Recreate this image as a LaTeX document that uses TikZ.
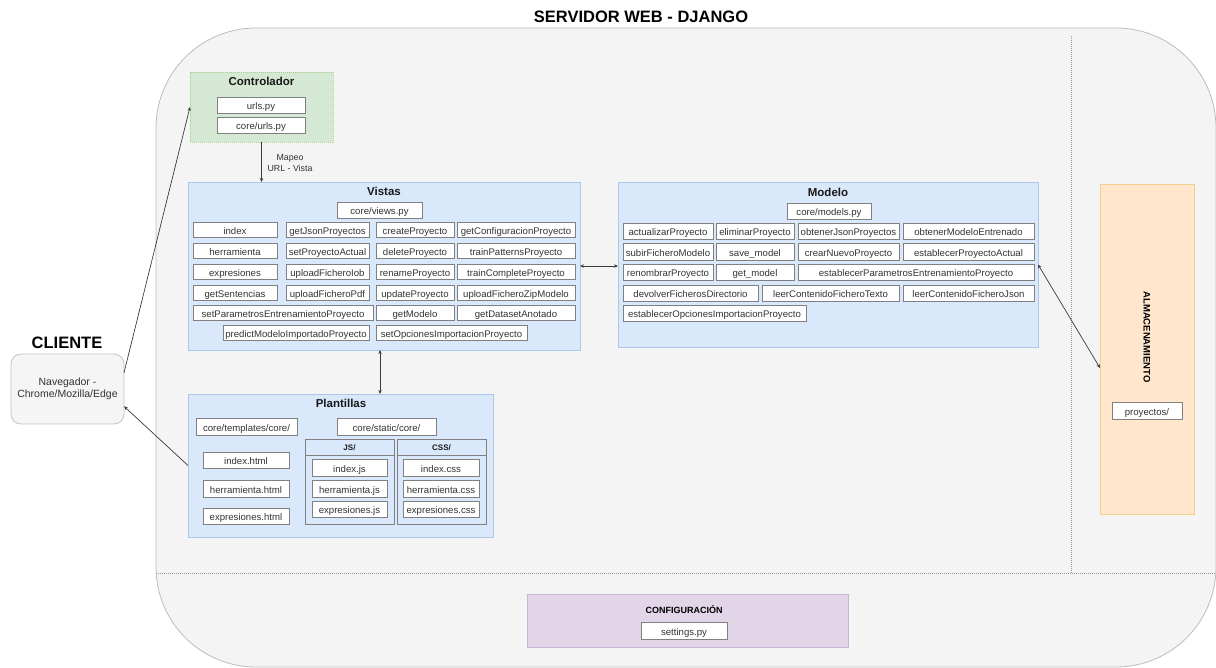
\documentclass[tikz,border=0pt]{standalone}
\usepackage{fontspec}
\setmainfont{Liberation Sans}
\usetikzlibrary{arrows.meta}

\definecolor{bgfill}{HTML}{F4F4F4}
\definecolor{bgline}{HTML}{BDBDBD}
\definecolor{boxline}{HTML}{808080}
\definecolor{txt}{HTML}{333333}
\definecolor{bluefill}{HTML}{DAE8FC}
\definecolor{blueline}{HTML}{AFC6E9}
\definecolor{greenfill}{HTML}{D5E8D4}
\definecolor{greenline}{HTML}{A9D18E}
\definecolor{orangefill}{HTML}{FFE6CC}
\definecolor{orangeline}{HTML}{F2CF8C}
\definecolor{purplefill}{HTML}{E1D5E7}
\definecolor{purpleline}{HTML}{C9B3D6}
\definecolor{navfill}{HTML}{F5F5F5}
\definecolor{navline}{HTML}{C4C4C4}
\definecolor{dotline}{HTML}{9A9A9A}
\definecolor{arrowline}{HTML}{3A3A3A}

\tikzset{
  fbox/.style={draw=boxline, line width=0.8pt, fill=white, inner sep=0pt, outer sep=0pt,
    text height=9.4pt, text depth=0pt,
    font=\fontsize{9.6}{11}\selectfont, text=txt},
  area/.style={inner sep=0pt, outer sep=0pt, line width=0.8pt},
  ttl/.style={font=\fontsize{11.5}{13}\selectfont\bfseries, text=black!90, inner sep=0pt},
  smallttl/.style={font=\fontsize{8}{9}\selectfont\bfseries, text=black!90, inner sep=0pt},
  lbl/.style={font=\fontsize{8.8}{11}\selectfont, text=txt, inner sep=0pt, align=center},
  sep/.style={draw=dotline, line width=0.7pt, dash pattern=on 1pt off 1pt},
  conn/.style={draw=arrowline, line width=0.7pt, -{Stealth[length=4pt,width=3.4pt]}},
  dconn/.style={draw=arrowline, line width=0.7pt, {Stealth[length=4pt,width=3.4pt]}-{Stealth[length=4pt,width=3.4pt]}},
}

% a box given by its corners (x1,y1)-(x2,y2) in pixel units
\newcommand\fb[6]{\node[fbox, minimum width={(#4)-(#2)}, minimum height={(#5)-(#3)}]
  (#1) at ({((#2)+(#4))/2},{((#3)+(#5))/2}) {#6};}
% a coloured area given by its corners
\newcommand\ar[6]{\node[area, #6, minimum width={(#4)-(#2)}, minimum height={(#5)-(#3)}]
  (#1) at ({((#2)+(#4))/2},{((#3)+(#5))/2}) {};}

\begin{document}
\begin{tikzpicture}[x=1pt, y=-1pt]
\useasboundingbox (0,0) rectangle (1216,668);

% server frame
\draw[fill=bgfill, draw=bgline, line width=0.8pt, rounded corners=100pt] (156,28) rectangle (1216,667);
\node[font=\fontsize{16.5}{18}\selectfont\bfseries, inner sep=0pt] (title) at (641,17) {SERVIDOR WEB - DJANGO};

% dotted separators
\coordinate (hs1) at (156,573);
\coordinate (hs2) at (1216,573);
\coordinate (vs1) at (1071,36);
\coordinate (vs2) at (1071,573);
\draw[sep] (hs1) -- (hs2);
\draw[sep] (vs1) -- (vs2);

% client
\node[font=\fontsize{16.5}{18}\selectfont\bfseries, inner sep=0pt] (cliente) at (67,343) {CLIENTE};
\node[draw=navline, fill=navfill, line width=0.8pt, rounded corners=10pt, minimum width=113, minimum height=70,
  inner sep=0pt, outer sep=0pt, align=center, text=txt, font=\fontsize{10.5}{12.5}\selectfont]
  (nav) at (67.5,389) {Navegador -\\Chrome/Mozilla/Edge};

% controller
\ar{ctrl}{190}{72}{333}{142}{fill=greenfill, draw=greenline, dash pattern=on 1pt off 1pt}
\node[ttl] (ctrlt) at (261.5,81) {Controlador};
\fb{urls}{217}{97}{305}{113}{urls.py}
\fb{coreurls}{217}{117}{305}{133}{core/urls.py}

% views
\ar{vistas}{188}{182}{580}{350}{fill=bluefill, draw=blueline}
\node[ttl] (vistast) at (384,191) {Vistas};
\fb{views}{337}{202}{422}{218}{core/views.py}
\fb{v11}{193}{222}{277}{237}{index}
\fb{v12}{286}{222}{369}{237}{getJsonProyectos}
\fb{v13}{376}{222}{454}{237}{createProyecto}
\fb{v14}{457}{222}{575}{237}{getConfiguracionProyecto}
\fb{v21}{193}{243}{277}{258}{herramienta}
\fb{v22}{286}{243}{369}{258}{setProyectoActual}
\fb{v23}{376}{243}{454}{258}{deleteProyecto}
\fb{v24}{457}{243}{575}{258}{trainPatternsProyecto}
\fb{v31}{193}{264}{277}{279}{expresiones}
\fb{v32}{286}{264}{369}{279}{uploadFicheroIob}
\fb{v33}{376}{264}{454}{279}{renameProyecto}
\fb{v34}{457}{264}{575}{279}{trainCompleteProyecto}
\fb{v41}{193}{285}{277}{300}{getSentencias}
\fb{v42}{286}{285}{369}{300}{uploadFicheroPdf}
\fb{v43}{376}{285}{454}{300}{updateProyecto}
\fb{v44}{457}{285}{575}{300}{uploadFicheroZipModelo}
\fb{v51}{193}{305}{373}{320}{setParametrosEntrenamientoProyecto}
\fb{v52}{376}{305}{454}{320}{getModelo}
\fb{v53}{457}{305}{575}{320}{getDatasetAnotado}
\fb{v61}{223}{325}{369}{340}{predictModeloImportadoProyecto}
\fb{v62}{376}{325}{527}{340}{setOpcionesImportacionProyecto}

% model
\ar{modelo}{618}{182}{1038}{347}{fill=bluefill, draw=blueline}
\node[ttl] (modelot) at (828,192) {Modelo};
\fb{models}{787}{203}{871}{219}{core/models.py}
\fb{m11}{623}{223}{713}{239}{actualizarProyecto}
\fb{m12}{716}{223}{794}{239}{eliminarProyecto}
\fb{m13}{798}{223}{899}{239}{obtenerJsonProyectos}
\fb{m14}{903}{223}{1034}{239}{obtenerModeloEntrenado}
\fb{m21}{623}{243}{713}{260}{subirFicheroModelo}
\fb{m22}{716}{243}{794}{260}{save\_model}
\fb{m23}{798}{243}{899}{260}{crearNuevoProyecto}
\fb{m24}{903}{243}{1034}{260}{establecerProyectoActual}
\fb{m31}{623}{264}{713}{280}{renombrarProyecto}
\fb{m32}{716}{264}{794}{280}{get\_model}
\fb{m33}{798}{264}{1034}{280}{establecerParametrosEntrenamientoProyecto}
\fb{m41}{623}{285}{758}{301}{devolverFicherosDirectorio}
\fb{m42}{762}{285}{899}{301}{leerContenidoFicheroTexto}
\fb{m43}{903}{285}{1034}{301}{leerContenidoFicheroJson}
\fb{m51}{623}{305}{806}{321}{establecerOpcionesImportacionProyecto}

% templates
\ar{plant}{188}{394}{493}{537}{fill=bluefill, draw=blueline}
\node[ttl] (plantt) at (341,403) {Plantillas};
\fb{tpl}{196}{418}{297}{435}{core/templates/core/}
\fb{stc}{337}{418}{436}{435}{core/static/core/}
\fb{h1}{203}{452}{289}{468}{index.html}
\fb{h2}{203}{480}{289}{497}{herramienta.html}
\fb{h3}{203}{508}{289}{524}{expresiones.html}
\node[draw=boxline, line width=0.8pt, inner sep=0pt, outer sep=0pt, minimum width=89, minimum height=85] (js) at (349.5,481.5) {};
\draw[draw=boxline, line width=0.8pt] (js.west |- 0,455) -- (js.east |- 0,455);
\node[smallttl] (jst) at (349.5,447.5) {JS/};
\node[draw=boxline, line width=0.8pt, inner sep=0pt, outer sep=0pt, minimum width=89, minimum height=85] (css) at (441.5,481.5) {};
\draw[draw=boxline, line width=0.8pt] (css.west |- 0,455) -- (css.east |- 0,455);
\node[smallttl] (csst) at (441.5,447.5) {CSS/};
\fb{j1}{312}{459}{387}{476}{index.js}
\fb{j2}{312}{480}{387}{497}{herramienta.js}
\fb{j3}{312}{501}{387}{517}{expresiones.js}
\fb{c1}{403}{459}{479}{476}{index.css}
\fb{c2}{403}{480}{479}{497}{herramienta.css}
\fb{c3}{403}{501}{479}{517}{expresiones.css}

% storage
\ar{alm}{1100}{184}{1194}{514}{fill=orangefill, draw=orangeline}
\node[font=\fontsize{9.5}{11}\selectfont\bfseries, inner sep=0pt, rotate=-90] (almt) at (1147,337) {ALMACENAMIENTO};
\fb{proy}{1112}{402}{1182}{419}{proyectos/}

% configuration
\ar{conf}{527}{594}{848}{647}{fill=purplefill, draw=purpleline}
\node[font=\fontsize{9}{11}\selectfont\bfseries, inner sep=0pt] (conft) at (684,610) {CONFIGURACIÓN};
\fb{settings}{641}{622}{727}{639}{settings.py}

% connectors
\draw[conn] (nav.16) -- (ctrl.west);
\draw[conn] (plant.west) -- (nav.-17);
\draw[conn] (ctrl.south) -- (ctrl.south |- vistas.north);
\node[lbl] (mapeo) at (290,163) {Mapeo\\URL - Vista};
\draw[dconn] (vistas.east) -- (vistas.east -| modelo.west);
\draw[dconn] ([xshift=-4]vistas.south) -- ([xshift=-4]vistas.south |- plant.north);
\draw[dconn] (modelo.east) -- ([yshift=-19]alm.west);
\end{tikzpicture}
\end{document}
